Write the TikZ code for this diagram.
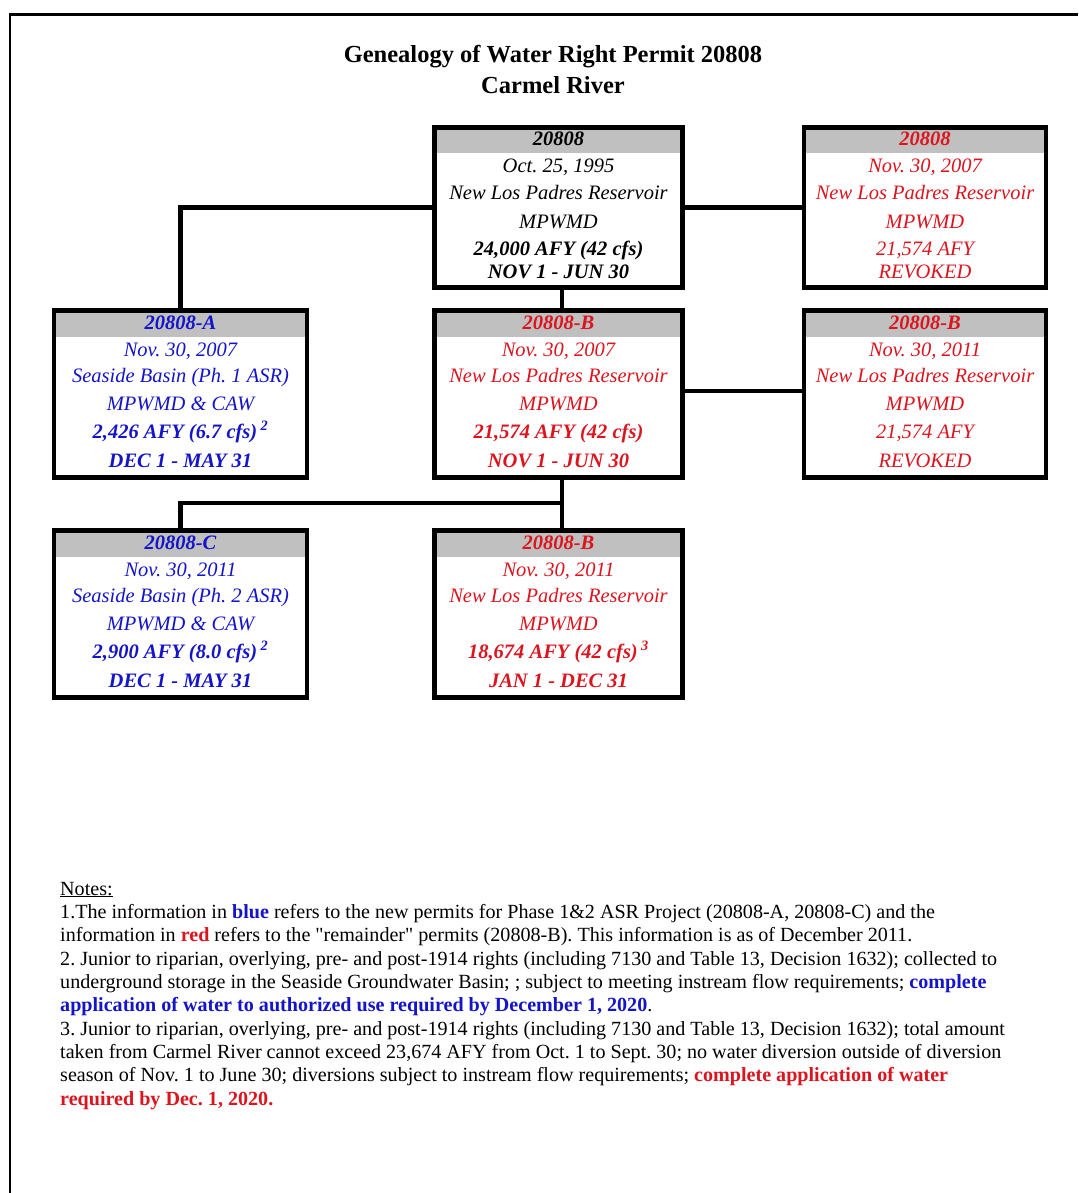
\documentclass[tikz,border=0pt]{standalone}
\usepackage{fontspec}
\setmainfont{Liberation Serif}
\newfontfamily\qfont{Liberation Serif}
\definecolor{pblue}{RGB}{20,20,200}
\definecolor{pred}{RGB}{220,20,30}
\definecolor{hdr}{RGB}{192,192,192}
\tikzset{
  pbox/.style={draw, line width=4.3pt, inner sep=0pt,
    path picture={\fill[hdr] (path picture bounding box.north west) rectangle ([yshift=-26pt]path picture bounding box.north east);}},
  conn/.style={line width=4.3pt},
  ptext/.style={anchor=base, inner sep=0pt, font=\fontsize{20.5}{24}\selectfont\itshape\frenchspacing},
  ttl/.style={anchor=base, inner sep=0pt, font=\fontsize{24.5}{28}\selectfont\bfseries},
  note/.style={anchor=base west, inner sep=0pt, font=\qfont\fontsize{20.1}{23}\selectfont\frenchspacing},
}
\newcommand\plines[4]{%
  \foreach \yy/\ptx [count=\i] in {#4} {\node[ptext, text=#3] (#1-\i) at (#2,\yy) {\ptx};}}
\newcommand\sups[1]{\,\textsuperscript{\textbf{#1}}}
\begin{document}
\begin{tikzpicture}[x=1pt,y=-1pt]
\useasboundingbox (0,0) rectangle (1078,1193);
% outer frame
\draw[line width=2.5pt, line join=miter] (10,1193) -- (10,14.5) -- (1078,14.5);
% title
\node[ttl] (t1) at (553,63) {Genealogy of Water Right Permit 20808};
\node[ttl] (t2) at (553,94) {Carmel River};
% boxes
\node[pbox, minimum width=248pt, minimum height=160pt] (b0) at (558.5,207.5) {};
\node[pbox, minimum width=242pt, minimum height=160pt] (r0) at (925,207.5) {};
\node[pbox, minimum width=253pt, minimum height=167pt] (a1) at (180.5,394) {};
\node[pbox, minimum width=248pt, minimum height=167pt] (b1) at (558.5,394) {};
\node[pbox, minimum width=242pt, minimum height=167pt] (r1) at (925,394) {};
\node[pbox, minimum width=253pt, minimum height=167pt] (c2) at (180.5,614) {};
\node[pbox, minimum width=248pt, minimum height=167pt] (b2) at (558.5,614) {};
% connectors
\draw[conn] (b0.west) -| (a1.north);
\draw[conn] (b0.east) -- (r0.west);
\draw[conn] ([xshift=3.5pt]b0.south) -- ([xshift=3.5pt]b1.north);
\draw[conn] ([yshift=3pt]b1.east) -- ([yshift=3pt]r1.west);
\coordinate (j) at (562,503);
\draw[conn] ([xshift=3.5pt]b1.south) -- ([xshift=3.5pt]b2.north);
\draw[conn] (j) -| (c2.north);
% texts
\plines{b0t}{558.5}{black}{146/{\textbf{20808}}, 173/{Oct. 25, 1995}, 200/{New Los Padres Reservoir}, 228/{MPWMD}, 255/{\textbf{24,000 AFY (42 cfs)}}, 278/{\textbf{NOV 1 - JUN 30}}}
\plines{r0t}{925}{pred}{146/{\textbf{20808}}, 173/{Nov. 30, 2007}, 200/{New Los Padres Reservoir}, 228/{MPWMD}, 255/{21,574 AFY}, 278/{REVOKED}}
\plines{a1t}{180.5}{pblue}{329/{\textbf{20808-A}}, 356/{Nov. 30, 2007}, 382/{Seaside Basin (Ph. 1 ASR)}, 410/{MPWMD \& CAW}, 438/{\textbf{2,426 AFY (6.7 cfs)}\sups{2}}, 467/{\textbf{DEC 1 - MAY 31}}}
\plines{b1t}{558.5}{pred}{329/{\textbf{20808-B}}, 356/{Nov. 30, 2007}, 382/{New Los Padres Reservoir}, 410/{MPWMD}, 438/{\textbf{21,574 AFY (42 cfs)}}, 467/{\textbf{NOV 1 - JUN 30}}}
\plines{r1t}{925}{pred}{329/{\textbf{20808-B}}, 356/{Nov. 30, 2011}, 382/{New Los Padres Reservoir}, 410/{MPWMD}, 438/{21,574 AFY}, 467/{REVOKED}}
\plines{c2t}{180.5}{pblue}{549/{\textbf{20808-C}}, 576/{Nov. 30, 2011}, 602/{Seaside Basin (Ph. 2 ASR)}, 630/{MPWMD \& CAW}, 658/{\textbf{2,900 AFY (8.0 cfs)}\sups{2}}, 687/{\textbf{DEC 1 - MAY 31}}}
\plines{b2t}{558.5}{pred}{549/{\textbf{20808-B}}, 576/{Nov. 30, 2011}, 602/{New Los Padres Reservoir}, 630/{MPWMD}, 658/{\textbf{18,674 AFY (42 cfs)}\sups{3}}, 687/{\textbf{JAN 1 - DEC 31}}}
% notes
\node[note] (n0) at (60,895) {\underline{Notes:}};
\node[note] (n1) at (60,918.3) {1.The information in \textbf{\color{pblue}blue} refers to the new permits for Phase 1\&2 ASR Project (20808-A, 20808-C) and the};
\node[note] (n2) at (60,941.7) {information in \textbf{\color{pred}red} refers to the "remainder" permits (20808-B). This information is as of December 2011.};
\node[note] (n3) at (60,965) {2. Junior to riparian, overlying, pre- and post-1914 rights (including 7130 and Table 13, Decision 1632); collected to};
\node[note] (n4) at (60,988.3) {underground storage in the Seaside Groundwater Basin; ; subject to meeting instream flow requirements; \textbf{\color{pblue}complete}};
\node[note] (n5) at (60,1011.7) {\textbf{\color{pblue}application of water to authorized use required by December 1, 2020}.};
\node[note] (n6) at (60,1035) {3. Junior to riparian, overlying, pre- and post-1914 rights (including 7130 and Table 13, Decision 1632); total amount};
\node[note] (n7) at (60,1058.3) {taken from Carmel River cannot exceed 23,674 AFY from Oct. 1 to Sept. 30; no water diversion outside of diversion};
\node[note] (n8) at (60,1081.7) {season of Nov. 1 to June 30; diversions subject to instream flow requirements; \textbf{\color{pred}complete application of water}};
\node[note] (n9) at (60,1105) {\textbf{\color{pred}required by Dec. 1, 2020.}};
\end{tikzpicture}
\end{document}
